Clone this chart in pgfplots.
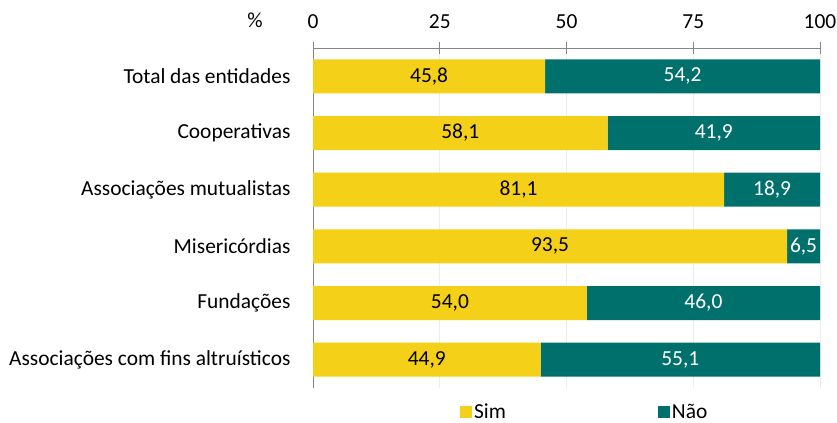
\documentclass[border=0pt]{standalone}
\usepackage{pgfplots}
\pgfplotsset{compat=1.18}
\usepackage{fontspec}
\setmainfont{Carlito}
\definecolor{simc}{RGB}{245,208,24}
\definecolor{naoc}{RGB}{0,112,108}
\definecolor{axc}{RGB}{134,134,134}
\newcommand{\fs}{\fontsize{21.5}{25}\selectfont}
\begin{document}
\begin{tikzpicture}
\useasboundingbox (0,0) rectangle (837bp,423bp);
\pgfplotsset{
  common/.style={
    at={(313bp,35bp)}, anchor=south west,
    scale only axis, width=507bp, height=340bp,
    xmin=0, xmax=100, ymin=-0.5, ymax=5.5, y dir=reverse,
  }
}
\begin{axis}[common,
  xbar stacked, bar width=34bp,
  axis x line*=top, axis y line*=left,
  axis line style={draw=axc, line width=0.9pt, -},
  xtick={0,25,50,75,100},
  tick align=center, major tick length=12bp,
  tick style={draw=axc, line width=0.9pt},
  xmajorgrids, grid style={draw=black!7, line width=0.8pt},
  xticklabel style={font=\fs, yshift=10bp},
  /pgf/number format/assume math mode=true,
  ytick={0,1,2,3,4,5},
  yticklabels={Total das entidades,Cooperativas,Associações mutualistas,Misericórdias,Fundações,Associações com fins altruísticos},
  ytick style={draw=none},
  yticklabel style={font=\fs, xshift=-13bp},
  extra y ticks={-0.5,0.5,1.5,2.5,3.5,4.5,5.5},
  extra y tick labels={},
  extra y tick style={tick align=outside, major tick length=7bp, tick style={draw=axc, line width=0.9pt}},
  legend style={draw=none, legend columns=2, at={(0.536,-0.070)}, anchor=center,
    font=\fs, inner sep=0pt,
    /tikz/every even column/.append style={column sep=150bp}},
  legend image code/.code={\fill[#1] (0bp,-6bp) rectangle (12bp,6bp);},
  clip=false,
]
\addplot[fill=simc, draw=none] coordinates {(45.8,0) (58.1,1) (81.1,2) (93.5,3) (54.0,4) (44.9,5)};
\addplot[fill=naoc, draw=none] coordinates {(54.2,0) (41.9,1) (18.9,2) (6.5,3) (46.0,4) (55.1,5)};
\legend{Sim,Não}
\node[font=\fs, anchor=center] at ([xshift=-58bp, yshift=28bp]rel axis cs:0,1) {\%};
\end{axis}
\begin{axis}[common, hide axis, clip=false,
  nodes near coords, point meta=explicit symbolic,
  every node near coord/.append style={anchor=center, font=\fs},
]
\addplot[draw=none, mark=none, nodes near coords style={text=black}] coordinates {
  (22.9,0) [45,8] (29.05,1) [58,1] (40.55,2) [81,1] (46.75,3) [93,5] (27.0,4) [54,0] (22.45,5) [44,9]};
\addplot[draw=none, mark=none, nodes near coords style={text=white}] coordinates {
  (72.9,0) [54,2] (79.05,1) [41,9] (90.55,2) [18,9] (96.75,3) [6,5] (77.0,4) [46,0] (72.45,5) [55,1]};
\end{axis}
\end{tikzpicture}
\end{document}
